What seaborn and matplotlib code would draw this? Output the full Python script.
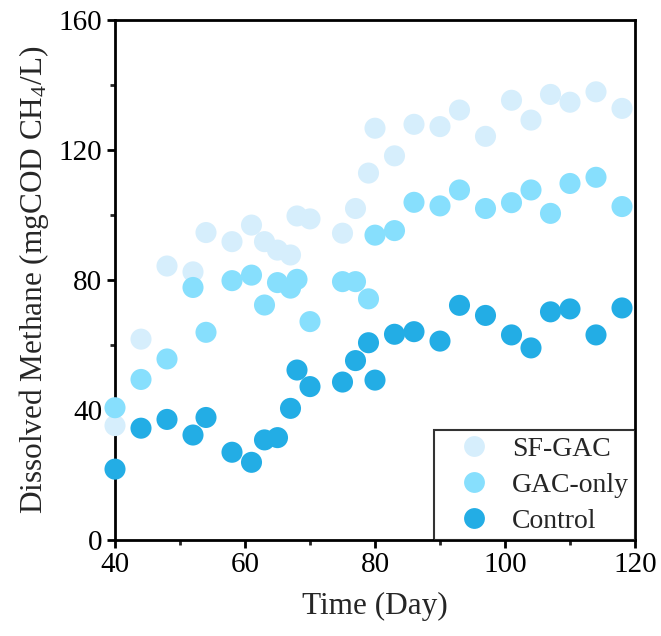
import numpy as np
import pandas as pd
import matplotlib
matplotlib.use("Agg")
import matplotlib.pyplot as plt
import seaborn as sns
from matplotlib.ticker import MultipleLocator

days = [40, 44, 48, 52, 54, 58, 61, 63, 65, 67, 68, 70, 75, 77, 79, 80, 83, 86, 90, 93, 97, 101, 104, 107, 110, 114, 118]
sf_gac = [35.2, 61.8, 84.3, 82.5, 94.6, 91.8, 96.9, 91.8, 89.2, 87.7, 99.7, 98.8, 94.4, 102.0, 112.9, 126.7, 118.2, 127.9, 127.2, 132.3, 124.2, 135.3, 129.2, 137.1, 134.7, 137.9, 132.8]
gac_only = [40.7, 49.4, 55.7, 77.7, 63.9, 79.8, 81.5, 72.3, 79.2, 77.5, 80.2, 67.2, 79.5, 79.5, 74.2, 93.8, 95.2, 103.9, 102.8, 107.7, 102.0, 103.8, 107.7, 100.5, 109.7, 111.6, 102.6]
control = [21.8, 34.4, 37.1, 32.3, 37.7, 27.0, 23.9, 30.8, 31.5, 40.5, 52.3, 47.2, 48.6, 55.2, 60.7, 49.2, 63.3, 64.1, 61.2, 72.2, 69.1, 63.1, 59.1, 70.2, 71.1, 63.1, 71.4]
groups = ["SF-GAC", "GAC-only", "Control"]
colors = ["#D6EEFC", "#87DFFD", "#23ADE5"]

df = pd.concat([
    pd.DataFrame({"Day": days, "Methane": vals, "Group": g})
    for g, vals in zip(groups, [sf_gac, gac_only, control])
], ignore_index=True)

sns.set_style("ticks")
plt.rcParams["font.family"] = ["Liberation Serif", "DejaVu Serif"]
plt.rcParams["mathtext.default"] = "regular"

fig = plt.figure(figsize=(6.61, 6.36), dpi=100)
ax = fig.add_axes([115/661, 1 - 540/636, (635 - 115)/661, (540 - 20)/636])

sns.scatterplot(data=df, x="Day", y="Methane", hue="Group", hue_order=groups,
                palette=dict(zip(groups, colors)), s=230, linewidth=0,
                edgecolor="none", ax=ax, clip_on=False, zorder=3, legend=True)

ax.set_xlim(40, 120)
ax.set_ylim(0, 160)
ax.xaxis.set_major_locator(MultipleLocator(20))
ax.xaxis.set_minor_locator(MultipleLocator(10))
ax.yaxis.set_major_locator(MultipleLocator(40))
ax.yaxis.set_minor_locator(MultipleLocator(20))
ax.tick_params(which="major", direction="out", length=6, width=2, labelsize=21, colors="black", pad=3)
ax.tick_params(which="minor", direction="out", length=3.5, width=2)
for sp in ax.spines.values():
    sp.set_visible(True)
    sp.set_linewidth(2)
    sp.set_color("black")

ax.set_xlabel("Time (Day)", fontsize=22.5, labelpad=10)
ax.set_ylabel("Dissolved Methane (mgCOD CH$_4$/L)", fontsize=22.5, labelpad=6)

handles, labels = ax.get_legend_handles_labels()
for h in handles:
    try:
        h.set_markersize(15)
    except Exception:
        pass
leg = ax.legend(handles, labels, loc="lower right", frameon=True, fancybox=False,
                edgecolor="black", fontsize=20, borderaxespad=0, handletextpad=0.1,
                labelspacing=0.38, borderpad=0.22, handlelength=2.5)
leg.get_frame().set_linewidth(1.5)
leg.set_zorder(5)

fig.savefig("out.png", dpi=100)
